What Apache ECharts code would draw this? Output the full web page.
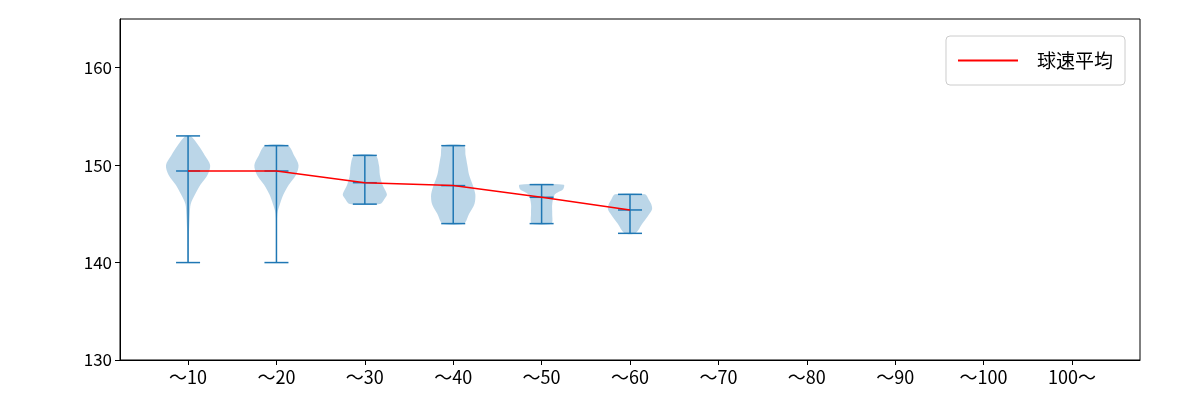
<!DOCTYPE html>
<html>
<head>
<meta charset="utf-8">
<script src="https://cdn.jsdelivr.net/npm/echarts@6/dist/echarts.min.js"></script>
<style>body{margin:0}#c{width:1200px;height:400px}</style>
</head>
<body>
<div id="c"></div>
<script>
var labels = ['～10', '～20', '～30', '～40', '～50', '～60', '～70', '～80', '～90', '～100', '100～'];
var means = [149.4, 149.4, 148.2, 147.9, 146.7, 145.4];
var mins = [140, 140, 146, 144, 144, 143];
var maxs = [153, 152, 151, 152, 148, 147];
// violin outlines: [speed, half width (x units)]
var shapes = [
    [[153, 0.03], [152, 0.12], [151, 0.19], [150, 0.25], [149, 0.22], [148, 0.14], [147, 0.08], [146, 0.03], [145, 0.02], [143, 0.01], [140, 0.005]],
    [[152, 0.13], [151, 0.2], [150, 0.25], [149, 0.22], [148, 0.14], [147, 0.08], [146, 0.04], [145, 0.01], [143, 0.005], [140, 0.002]],
    [[151, 0.12], [150, 0.16], [149, 0.17], [148, 0.2], [147, 0.25], [146.5, 0.22], [146, 0.17]],
    [[152, 0.12], [151, 0.14], [150, 0.16], [149, 0.18], [148, 0.22], [147, 0.25], [146, 0.24], [145, 0.18], [144, 0.12]],
    [[148, 0.25], [147.5, 0.24], [147, 0.15], [146, 0.12], [145, 0.12], [144, 0.11]],
    [[147, 0.17], [146.5, 0.21], [146, 0.24], [145.5, 0.25], [145, 0.22], [144, 0.14], [143, 0.06]]
];
var xs = means.map(function (m, i) { return i + 1; });
var positions = labels.map(function (l, i) { return i + 1; });

var chart = echarts.init(document.getElementById('c'));
var BLUE = '#1f77b4';
chart.setOption({
    animation: false,
    grid: {left: 120, right: 60, top: 19, bottom: 40, show: true, borderColor: '#000', borderWidth: 1},
    legend: {
        right: 75, top: 36, orient: 'vertical',
        data: [{name: '球速平均', icon: 'path://M0,0 L60,0 L60,2 L0,2 Z'}],
        itemWidth: 60, itemHeight: 2,
        padding: [15, 12, 15, 12],
        borderColor: '#ccc', borderWidth: 1, borderRadius: 4,
        textStyle: {fontSize: 19, color: '#000', fontFamily: 'Noto Sans CJK JP', padding: [0, 0, 0, 14]}
    },
    xAxis: {
        type: 'value', min: 0.23, max: 11.77,
        splitLine: {show: false},
        axisLine: {onZero: false, lineStyle: {color: '#000'}},
        axisTick: {lineStyle: {color: '#000'}, length: 5, customValues: positions},
        axisLabel: {
            fontSize: 18, color: '#000', fontFamily: 'Noto Sans CJK JP', margin: 8,
            customValues: positions,
            formatter: function (v) { return labels[Math.round(v) - 1] || ''; }
        }
    },
    yAxis: {
        type: 'value', min: 130, max: 165,
        splitLine: {show: false},
        axisLine: {show: true, lineStyle: {color: '#000'}},
        axisTick: {show: true, lineStyle: {color: '#000'}, length: 5, customValues: [130, 140, 150, 160]},
        axisLabel: {
            fontSize: 17, color: '#000', fontFamily: 'Noto Sans CJK JP',
            customValues: [130, 140, 150, 160]
        }
    },
    series: [
        {
            type: 'custom', name: 'violin',
            data: shapes.map(function (s, i) { return [i + 1, i]; }),
            renderItem: function (params, api) {
                var i = api.value(1), x = api.value(0), s = shapes[i];
                var pts = [];
                s.forEach(function (p) { pts.push(api.coord([x + p[1], p[0]])); });
                for (var k = s.length - 1; k >= 0; k--) pts.push(api.coord([x - s[k][1], s[k][0]]));
                var top = api.coord([x, maxs[i]]), bot = api.coord([x, mins[i]]), mid = api.coord([x, means[i]]);
                var cap = 12;
                return {
                    type: 'group', children: [
                        {type: 'polygon', shape: {points: pts, smooth: 0.3}, style: {fill: 'rgba(31,119,180,0.3)'}},
                        {type: 'line', shape: {x1: top[0], y1: top[1], x2: bot[0], y2: bot[1]}, style: {stroke: BLUE, lineWidth: 1.5}},
                        {type: 'line', shape: {x1: top[0] - cap, y1: top[1], x2: top[0] + cap, y2: top[1]}, style: {stroke: BLUE, lineWidth: 1.5}},
                        {type: 'line', shape: {x1: bot[0] - cap, y1: bot[1], x2: bot[0] + cap, y2: bot[1]}, style: {stroke: BLUE, lineWidth: 1.5}},
                        {type: 'line', shape: {x1: mid[0] - cap, y1: mid[1], x2: mid[0] + cap, y2: mid[1]}, style: {stroke: BLUE, lineWidth: 1.5}}
                    ]
                };
            },
            z: 2
        },
        {
            type: 'line', name: '球速平均',
            data: xs.map(function (x, i) { return [x, means[i]]; }),
            symbol: 'none', lineStyle: {color: 'red', width: 1.5}, itemStyle: {color: 'red'},
            z: 3
        }
    ]
});
</script>
</body>
</html>
